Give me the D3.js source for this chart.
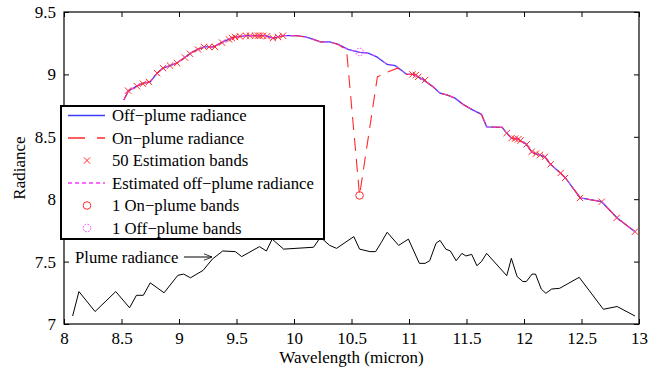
<!DOCTYPE html>
<html>
<head>
<meta charset="utf-8">
<script src="https://cdn.jsdelivr.net/npm/d3@7"></script>
<style>
  body { margin: 0; background: #fff; }
  svg { display: block; font-family: "Liberation Serif", "Times New Roman", serif; }
</style>
</head>
<body>
<svg id="chart" width="656" height="369"></svg>
<script>
// off-plume spectrum (blue), also used for the estimated curve
const offWave = [8.52, 8.56, 8.62, 8.69, 8.75, 8.81, 8.86, 8.92, 8.98, 9.04, 9.10, 9.16, 9.23, 9.30, 9.36, 9.43, 9.50, 9.59, 9.68, 9.75, 9.82, 9.91, 10.02, 10.10, 10.17, 10.23, 10.31, 10.385, 10.47, 10.57, 10.645, 10.72, 10.81, 10.88, 10.94, 10.98, 11.04, 11.12, 11.21, 11.27, 11.33, 11.40, 11.47, 11.545, 11.63, 11.675, 11.81, 11.85, 11.89, 11.95, 12.02, 12.07, 12.12, 12.18, 12.23, 12.31, 12.36, 12.49, 12.675, 12.81, 12.965];
const offRad = [8.795, 8.867, 8.90, 8.93, 8.94, 9.01, 9.05, 9.07, 9.09, 9.13, 9.17, 9.20, 9.22, 9.22, 9.25, 9.28, 9.30, 9.31, 9.31, 9.31, 9.29, 9.31, 9.31, 9.30, 9.28, 9.26, 9.26, 9.24, 9.20, 9.177, 9.17, 9.14, 9.08, 9.07, 9.03, 9.00, 9.00, 8.96, 8.90, 8.85, 8.835, 8.81, 8.76, 8.72, 8.68, 8.58, 8.576, 8.53, 8.49, 8.48, 8.44, 8.376, 8.36, 8.34, 8.28, 8.215, 8.17, 8.01, 7.98, 7.85, 7.74];

// on-plume spectrum (red dashed), dips at the plume band
const onWave = [8.52, 8.56, 8.62, 8.69, 8.75, 8.81, 8.86, 8.92, 8.98, 9.04, 9.10, 9.16, 9.23, 9.30, 9.36, 9.43, 9.50, 9.59, 9.68, 9.75, 9.82, 9.91, 10.02, 10.10, 10.17, 10.23, 10.31, 10.385, 10.457, 10.57, 10.725, 10.79, 10.90, 10.94, 10.98, 11.04, 11.12, 11.21, 11.27, 11.33, 11.40, 11.47, 11.545, 11.63, 11.675, 11.81, 11.85, 11.89, 11.95, 12.02, 12.07, 12.12, 12.18, 12.23, 12.31, 12.36, 12.49, 12.675, 12.81, 12.965];
const onRad = [8.795, 8.867, 8.90, 8.93, 8.94, 9.01, 9.05, 9.07, 9.09, 9.13, 9.17, 9.20, 9.22, 9.22, 9.25, 9.28, 9.30, 9.31, 9.31, 9.31, 9.29, 9.31, 9.31, 9.30, 9.28, 9.26, 9.26, 9.24, 9.195, 8.03, 8.98, 9.01, 9.05, 9.03, 9.00, 9.00, 8.96, 8.90, 8.85, 8.835, 8.81, 8.76, 8.72, 8.68, 8.58, 8.576, 8.53, 8.49, 8.48, 8.44, 8.376, 8.36, 8.34, 8.28, 8.215, 8.17, 8.01, 7.98, 7.85, 7.74];

// 50 estimation bands
const estWave = [8.557, 8.635, 8.687, 8.739, 8.809, 8.861, 8.922, 8.983, 9.052, 9.096, 9.165, 9.217, 9.261, 9.313, 9.374, 9.435, 9.461, 9.487, 9.530, 9.583, 9.617, 9.661, 9.687, 9.704, 9.730, 9.765, 9.817, 9.861, 9.904,
  11.03, 11.06, 11.08, 11.14,
  11.85, 11.893, 11.922, 11.95, 11.97, 12.023, 12.067, 12.104, 12.139, 12.183, 12.232, 12.319, 12.357, 12.487, 12.676, 12.806, 12.965];
const estRad = [8.87, 8.905, 8.925, 8.94, 9.01, 9.05, 9.07, 9.09, 9.135, 9.165, 9.20, 9.22, 9.22, 9.22, 9.255, 9.28, 9.29, 9.30, 9.305, 9.31, 9.31, 9.31, 9.31, 9.31, 9.31, 9.305, 9.29, 9.30, 9.31,
  9.00, 8.995, 8.98, 8.955,
  8.53, 8.49, 8.485, 8.48, 8.47, 8.44, 8.38, 8.365, 8.355, 8.34, 8.28, 8.21, 8.17, 8.01, 7.98, 7.85, 7.74];

const onBand = [10.57, 8.03];
const offBand = [10.57, 9.18];

// plume radiance (black)
const plumeWave = [8.075, 8.13, 8.27, 8.45, 8.57, 8.63, 8.69, 8.75, 8.87, 8.99, 9.04, 9.10, 9.21, 9.29, 9.38, 9.49, 9.545, 9.70, 9.76, 9.81, 9.91, 10.17, 10.23, 10.31, 10.37, 10.52, 10.57, 10.66, 10.71, 10.76, 10.81, 10.91, 10.995, 11.09, 11.14, 11.18, 11.235, 11.27, 11.32, 11.36, 11.41, 11.46, 11.495, 11.545, 11.59, 11.63, 11.675, 11.85, 11.89, 11.94, 11.99, 12.02, 12.07, 12.10, 12.15, 12.19, 12.24, 12.31, 12.48, 12.69, 12.81, 12.965];
const plumeRad = [7.064, 7.26, 7.10, 7.26, 7.13, 7.23, 7.23, 7.33, 7.25, 7.39, 7.40, 7.37, 7.43, 7.52, 7.585, 7.58, 7.54, 7.62, 7.585, 7.68, 7.60, 7.615, 7.695, 7.63, 7.606, 7.70, 7.60, 7.58, 7.58, 7.655, 7.735, 7.63, 7.68, 7.486, 7.486, 7.507, 7.647, 7.67, 7.60, 7.585, 7.507, 7.566, 7.545, 7.558, 7.467, 7.50, 7.566, 7.387, 7.526, 7.38, 7.34, 7.34, 7.40, 7.40, 7.28, 7.246, 7.28, 7.286, 7.374, 7.118, 7.14, 7.064];

const xTicks = [8, 8.5, 9, 9.5, 10, 10.5, 11, 11.5, 12, 12.5, 13];
const yTicks = [7, 7.5, 8, 8.5, 9, 9.5];

const legendLabels = ["Off\u2212plume radiance", "On\u2212plume radiance", "50 Estimation bands",
  "Estimated off\u2212plume radiance", "1 On\u2212plume bands", "1 Off\u2212plume bands"];

const BLUE = "#3c3cff", RED = "#ff2a2a", MAGENTA = "#ff38ff";

let svg = d3.select("svg#chart");
let pLeft = 64, pRight = 639, pTop = 12, pBottom = 324;

let x = d3.scaleLinear().domain([8, 13]).range([pLeft, pRight]);
let y = d3.scaleLinear().domain([7, 9.5]).range([pBottom, pTop]);

let pairs = (ws, rs) => ws.map((w, i) => [w, rs[i]]);
let line = d3.line().x((d) => x(d[0])).y((d) => y(d[1]));

// axes: inward ticks on all four sides, box frame
let fmt = (d) => String(d);
svg.append("g").attr("transform", `translate(0,${pBottom})`)
  .call(d3.axisBottom(x).tickValues(xTicks).tickFormat(fmt).tickSize(-5).tickPadding(8));
svg.append("g").attr("transform", `translate(0,${pTop})`)
  .call(d3.axisTop(x).tickValues(xTicks).tickFormat("").tickSize(-5));
svg.append("g").attr("transform", `translate(${pLeft},0)`)
  .call(d3.axisLeft(y).tickValues(yTicks).tickFormat(fmt).tickSize(-5).tickPadding(8));
svg.append("g").attr("transform", `translate(${pRight},0)`)
  .call(d3.axisRight(y).tickValues(yTicks).tickFormat("").tickSize(-5));

svg.selectAll(".domain").attr("stroke", "none");
svg.selectAll(".tick line").attr("stroke", "#000");
svg.selectAll(".tick text").attr("font-size", 17).attr("fill", "#000")
  .attr("font-family", "Liberation Serif, serif");

svg.append("rect").attr("x", pLeft).attr("y", pTop)
  .attr("width", pRight - pLeft).attr("height", pBottom - pTop)
  .attr("fill", "none").attr("stroke", "#000").attr("stroke-width", 1.2);

let g = svg.append("g");

g.append("path").datum(pairs(plumeWave, plumeRad)).attr("d", line)
  .attr("fill", "none").attr("stroke", "#000").attr("stroke-width", 1);

g.append("path").datum(pairs(offWave, offRad)).attr("d", line)
  .attr("fill", "none").attr("stroke", BLUE).attr("stroke-width", 1.3);

g.append("path").datum(pairs(onWave, onRad)).attr("d", line)
  .attr("fill", "none").attr("stroke", RED).attr("stroke-width", 1.1)
  .attr("stroke-dasharray", "13,8");

let cross = d3.symbol().type(d3.symbolTimes).size(28);
g.selectAll("path.est").data(pairs(estWave, estRad)).enter()
  .append("path").attr("class", "est").attr("d", cross)
  .attr("transform", (d) => `translate(${x(d[0])},${y(d[1])})`)
  .attr("fill", "none").attr("stroke", RED).attr("stroke-width", 1);

g.append("path").datum(pairs(offWave, offRad)).attr("d", line)
  .attr("fill", "none").attr("stroke", MAGENTA).attr("stroke-width", 1)
  .attr("stroke-dasharray", "3,4");

g.append("circle").attr("cx", x(onBand[0])).attr("cy", y(onBand[1])).attr("r", 3.8)
  .attr("fill", "none").attr("stroke", RED).attr("stroke-width", 1);
g.append("circle").attr("cx", x(offBand[0])).attr("cy", y(offBand[1])).attr("r", 3.8)
  .attr("fill", "none").attr("stroke", MAGENTA).attr("stroke-width", 1)
  .attr("stroke-dasharray", "1.5,1.5");

// legend
let lg = svg.append("g").attr("transform", "translate(61,106)");
lg.append("rect").attr("width", 263).attr("height", 133)
  .attr("fill", "#fff").attr("stroke", "#000").attr("stroke-width", 2);
let rowY = (i) => 9.5 + i * 22.5;
lg.selectAll("text").data(legendLabels).enter().append("text")
  .attr("x", 51).attr("y", (d, i) => rowY(i)).attr("dy", "0.35em")
  .attr("font-size", 16.7).text((d) => d);

lg.append("line").attr("x1", 7).attr("x2", 44).attr("y1", rowY(0)).attr("y2", rowY(0))
  .attr("stroke", BLUE).attr("stroke-width", 1.5);
lg.append("line").attr("x1", 7).attr("x2", 44).attr("y1", rowY(1)).attr("y2", rowY(1))
  .attr("stroke", RED).attr("stroke-width", 1.3).attr("stroke-dasharray", "17,12");
lg.append("path").attr("d", cross).attr("transform", `translate(26,${rowY(2)})`)
  .attr("fill", "none").attr("stroke", RED);
lg.append("line").attr("x1", 7).attr("x2", 44).attr("y1", rowY(3)).attr("y2", rowY(3))
  .attr("stroke", MAGENTA).attr("stroke-width", 1.3).attr("stroke-dasharray", "4,3");
lg.append("circle").attr("cx", 26).attr("cy", rowY(4)).attr("r", 3.8)
  .attr("fill", "none").attr("stroke", RED);
lg.append("circle").attr("cx", 26).attr("cy", rowY(5)).attr("r", 3.8)
  .attr("fill", "none").attr("stroke", MAGENTA).attr("stroke-dasharray", "1.5,1.5");

// annotation for the plume curve
svg.append("text").attr("x", 75).attr("y", 257).attr("dy", "0.35em")
  .attr("font-size", 16.7).text("Plume radiance");
svg.append("defs").append("marker").attr("id", "arr")
  .attr("viewBox", "0 0 10 10").attr("refX", 10).attr("refY", 5)
  .attr("markerWidth", 8).attr("markerHeight", 8).attr("orient", "auto")
  .append("path").attr("d", "M0,1 L10,5 L0,9").attr("fill", "none").attr("stroke", "#000").attr("stroke-width", 1);
svg.append("line").attr("x1", 184).attr("x2", 212).attr("y1", 257).attr("y2", 257)
  .attr("stroke", "#000").attr("stroke-width", 1).attr("marker-end", "url(#arr)");

// axis titles
svg.append("text").attr("x", (pLeft + pRight) / 2).attr("y", 357).attr("dy", "0.35em")
  .attr("text-anchor", "middle").attr("font-size", 17).text("Wavelength (micron)");
svg.append("text").attr("transform", `translate(19,${(pTop + pBottom) / 2}) rotate(-90)`)
  .attr("dy", "0.35em").attr("text-anchor", "middle").attr("font-size", 17).text("Radiance");
</script>
</body>
</html>
